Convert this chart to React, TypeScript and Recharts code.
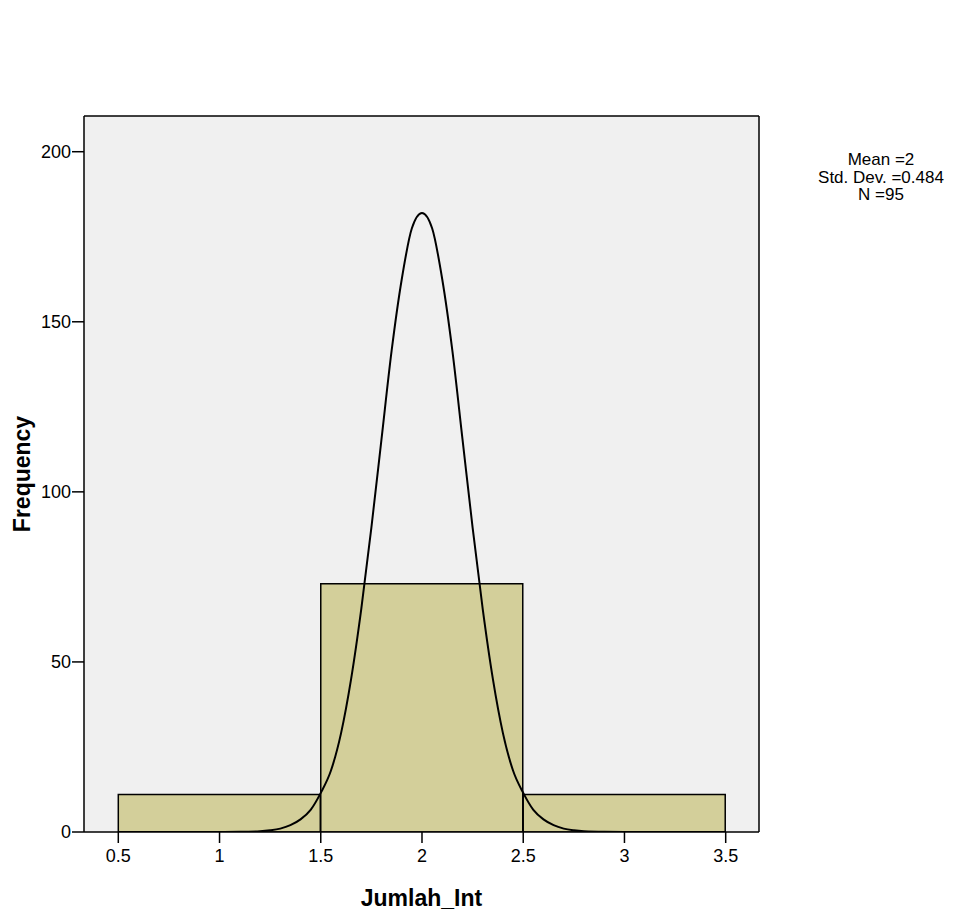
import React from 'react';
import {
  ComposedChart,
  Bar,
  Line,
  XAxis,
  YAxis,
  CartesianGrid,
  ReferenceLine,
} from 'recharts';

// histogram bins (centre, frequency)
const binCentres = [1, 2, 3];
const binCounts = [11, 73, 11];

// normal curve
const curveX = [
  0.5, 0.8, 1.0, 1.1, 1.2, 1.25, 1.3, 1.35, 1.4, 1.45, 1.5, 1.55, 1.6, 1.65, 1.7,
  1.75, 1.8, 1.85, 1.9, 1.95, 2.0, 2.05, 2.1, 2.15, 2.2, 2.25, 2.3, 2.35, 2.4, 2.45,
  2.5, 2.55, 2.6, 2.65, 2.7, 2.75, 2.8, 2.9, 3.0, 3.2, 3.5,
];
const curveY = [
  0, 0, 0.02, 0.05, 0.22, 0.5, 1.0, 2.0, 3.7, 6.5, 11.5, 18, 29, 45, 65.5,
  89.5, 115.5, 141.5, 162.5, 177.5, 182, 177.5, 162.5, 141.5, 115.5, 89.5, 65.5, 45, 29, 18,
  11.5, 6.5, 3.7, 2.0, 1.0, 0.5, 0.22, 0.05, 0.02, 0, 0,
];

const yTicks = [0, 50, 100, 150, 200];
const xTicks = [0.5, 1, 1.5, 2, 2.5, 3, 3.5];
const statsLines = ['Mean =2', 'Std. Dev. =0.484', 'N =95'];

const barData = binCentres.map((x, i) => ({ x, count: binCounts[i] }));
const curveData = curveX.map((x, i) => ({ x, density: curveY[i] }));

const FONT = 'Arial, "Liberation Sans", sans-serif';
const X_DOMAIN: [number, number] = [0.3306, 3.6645];
const Y_DOMAIN: [number, number] = [0, 210.5];

export default function App() {
  return (
    <div style={{ position: 'absolute', left: 0, top: 0, width: 953, height: 912, background: '#fff', fontFamily: FONT }}>
      <ComposedChart
        width={953}
        height={912}
        data={barData}
        margin={{ top: 116, right: 194, bottom: 0, left: 0 }}
      >
        <CartesianGrid fill="#f0f0f0" horizontal={false} vertical={false} />
        {/* hidden axis for the curve, so its dense points don't shrink the bars */}
        <XAxis xAxisId="curve" type="number" dataKey="x" domain={X_DOMAIN} allowDataOverflow hide />
        <XAxis
          type="number"
          dataKey="x"
          domain={X_DOMAIN}
          allowDataOverflow
          ticks={xTicks}
          height={80}
          tickSize={11}
          tickMargin={6}
          tick={{ fontSize: 18, fill: '#000', fontFamily: FONT }}
          tickLine={{ stroke: '#000', strokeWidth: 1.5 }}
          axisLine={{ stroke: '#000', strokeWidth: 1.5 }}
          label={{
            value: 'Jumlah_Int',
            position: 'insideBottom',
            offset: 6,
            style: { fontSize: 23, fontWeight: 'bold', fill: '#000', fontFamily: FONT },
          }}
        />
        <YAxis
          domain={Y_DOMAIN}
          allowDataOverflow
          ticks={yTicks}
          width={84}
          tickSize={12}
          tickMargin={1}
          tick={{ fontSize: 18, fill: '#000', fontFamily: FONT }}
          tickLine={{ stroke: '#000', strokeWidth: 1.5 }}
          axisLine={{ stroke: '#000', strokeWidth: 1.5 }}
          label={{
            value: 'Frequency',
            angle: -90,
            position: 'insideLeft',
            offset: 22,
            style: { fontSize: 23, fontWeight: 'bold', fill: '#000', fontFamily: FONT, textAnchor: 'middle' },
          }}
        />
        <Bar
          dataKey="count"
          barSize={202}
          fill="#d3cf9a"
          stroke="#000"
          strokeWidth={1.5}
          isAnimationActive={false}
        />
        <Line
          xAxisId="curve"
          data={curveData}
          dataKey="density"
          type="monotone"
          stroke="#000"
          strokeWidth={2}
          dot={false}
          activeDot={false}
          isAnimationActive={false}
        />
        {/* plot frame, top and right */}
        <ReferenceLine y={Y_DOMAIN[1]} stroke="#000" strokeWidth={1.5} ifOverflow="visible" />
        <ReferenceLine x={X_DOMAIN[1]} stroke="#000" strokeWidth={1.5} ifOverflow="visible" />
      </ComposedChart>
      <div
        style={{
          position: 'absolute',
          left: 800,
          top: 151,
          width: 162,
          textAlign: 'center',
          fontSize: 17,
          lineHeight: '17.5px',
          color: '#000',
        }}
      >
        {statsLines.map((s) => (
          <div key={s}>{s}</div>
        ))}
      </div>
    </div>
  );
}
